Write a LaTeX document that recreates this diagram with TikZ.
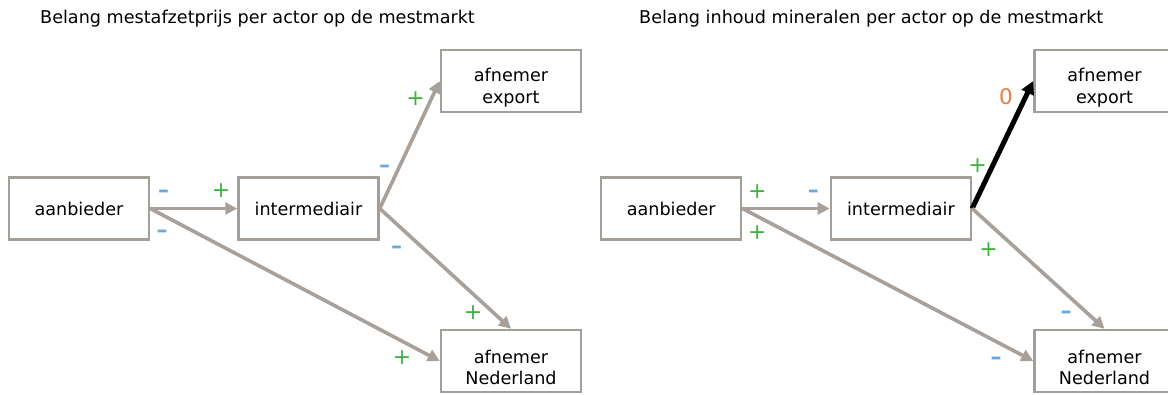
\documentclass[tikz,border=0pt]{standalone}
\usepackage{fontspec}
\setmainfont{DejaVu Sans}
\usetikzlibrary{arrows.meta}
\definecolor{boxgray}{RGB}{164,158,152}
\definecolor{arrgray}{RGB}{168,161,155}
\definecolor{plusgreen}{RGB}{62,178,62}
\definecolor{minblue}{RGB}{104,168,222}
\definecolor{zeroorange}{RGB}{232,128,60}
\tikzset{
  actorbox/.style={draw=boxgray, line width=2.5pt, fill=white, minimum width=140pt, minimum height=62pt, inner sep=0pt,
    font=\fontsize{17.6}{21.5}\selectfont},
  twoline/.style={align=center, font=\fontsize{17.6}{21.5}\selectfont, inner sep=0pt},
  ttl/.style={anchor=base west, inner sep=0pt, font=\fontsize{17.6}{21}\selectfont},
  flowarrow/.style={draw=arrgray, line width=3.6pt, -{Triangle[length=12pt,width=12pt]}},
  strongarrow/.style={draw=black, line width=5pt, -{Triangle[length=13pt,width=13pt]}},
  plussign/.style={text=plusgreen, inner sep=0pt, font=\fontsize{22}{22}\selectfont},
  minsign/.style={text=minblue, inner sep=0pt, font=\bfseries\fontsize{22}{22}\selectfont},
  zerosign/.style={text=zeroorange, inner sep=0pt, font=\fontsize{21.5}{21.5}\selectfont}
}
\begin{document}
\begin{tikzpicture}[x=1pt,y=-1pt]
\useasboundingbox (0,0) rectangle (1168,394);
\clip (0,0) rectangle (1168,394);
\fill[white] (0,0) rectangle (1168,394);

% ---------- left diagram ----------
\node[ttl] (tL) at (40,23) {Belang mestafzetprijs per actor op de mestmarkt};
\node[actorbox] (aanbL) at (79,208.5) {aanbieder};
\node[actorbox] (interL) at (308.5,208.5) {intermediair};
\node[actorbox, label={[twoline, yshift=-6.5pt]center:afnemer\\export}] (expL) at (511,81) {};
\node[actorbox, label={[twoline, yshift=-6.5pt]center:afnemer\\Nederland}] (nedL) at (511,361) {};

\draw[flowarrow] (aanbL.east) -- (interL.west);
\draw[flowarrow] (aanbL.east) -- (nedL.west);
\draw[flowarrow] (interL.east) -- (expL.west);
\draw[flowarrow] (interL.east) -- (nedL.north);

\node[minsign] (l1) at (163.5,194) {–};
\node[minsign] (l2) at (162,234) {–};
\node[plussign] (l3) at (221,190.7) {+};
\node[minsign] (l4) at (384.5,168.5) {–};
\node[plussign] (l5) at (415.5,98.3) {+};
\node[minsign] (l6) at (396.7,249.5) {–};
\node[plussign] (l7) at (473,312.7) {+};
\node[plussign] (l8) at (402,358) {+};

% ---------- right diagram ----------
\node[ttl] (tR) at (639,23) {Belang inhoud mineralen per actor op de mestmarkt};
\node[actorbox] (aanbR) at (671.2,208.5) {aanbieder};
\node[actorbox] (interR) at (900.9,208.5) {intermediair};
\node[actorbox, label={[twoline, yshift=-6.5pt]center:afnemer\\export}] (expR) at (1104.5,81) {};
\node[actorbox, label={[twoline, yshift=-6.5pt]center:afnemer\\Nederland}] (nedR) at (1104.5,361) {};

\draw[flowarrow] (aanbR.east) -- (interR.west);
\draw[flowarrow] (aanbR.east) -- (nedR.west);
\draw[strongarrow] (interR.east) -- (expR.west);
\draw[flowarrow] (interR.east) -- (nedR.north);

\node[plussign] (r1) at (757.3,191.7) {+};
\node[plussign] (r2) at (757.3,232.7) {+};
\node[minsign] (r3) at (813.3,193.3) {–};
\node[plussign] (r4) at (977.5,166) {+};
\node[zerosign] (r5) at (1006,97) {0};
\node[plussign] (r6) at (988.5,249.3) {+};
\node[minsign] (r7) at (1066,315) {–};
\node[minsign] (r8) at (996,360.8) {–};
\end{tikzpicture}
\end{document}
